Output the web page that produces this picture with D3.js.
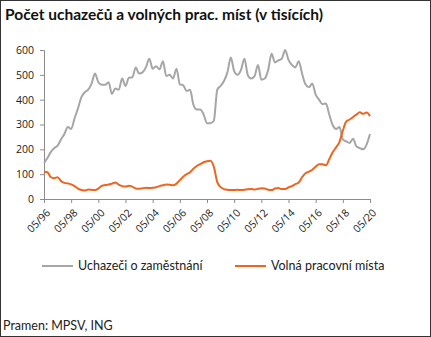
<!DOCTYPE html>
<html>
<head>
<meta charset="utf-8">
<script src="https://d3js.org/d3.v7.min.js"></script>
<style>
body { margin: 0; background: #fff; }
svg { display: block; }
.title { font-family: Lato, "Open Sans", sans-serif; font-weight: bold; font-size: 15.5px; fill: #111; }
.tick text, .xlab { font-family: "Open Sans", "Liberation Sans", sans-serif; font-size: 10.5px; fill: #222; }
.legend text, .source { font-family: Lato, "Open Sans", sans-serif; font-size: 12.5px; fill: #222; }
</style>
</head>
<body>
<svg width="431" height="337"></svg>
<script>
// quarterly readings, starting 05/1996 (thousands)
var uchazeci = [145,165,190,205,215,240,262,290,282,325,365,410,430,440,465,505,
  470,460,460,470,423,445,440,485,455,488,490,530,505,510,530,565,
  525,535,522,555,495,500,485,525,462,458,435,440,380,360,360,340,
  305,305,315,440,455,475,510,570,515,500,520,565,500,485,495,540,
  480,485,520,585,550,558,565,600,560,540,530,555,505,462,450,465,
  420,400,382,385,340,298,282,290,240,232,226,243,212,205,200,220,262];

var volnaMista = [110,108,88,84,88,72,65,63,59,52,42,36,34,38,37,36,
  42,53,56,58,62,66,58,52,50,53,50,42,41,43,45,44,
  45,47,52,55,58,57,55,62,76,90,100,108,122,133,140,148,
  152,154,130,68,48,40,37,36,36,37,36,37,39,40,38,41,
  43,42,37,36,42,44,40,40,47,52,60,66,88,104,110,118,
  130,140,140,136,160,188,208,230,275,312,320,330,340,349,343,348,333];

var yTicks = [0,100,200,300,400,500,600];
var xTickYears = [1996,1998,2000,2002,2004,2006,2008,2010,2012,2014,2016,2018,2020];

var seriesNames = ["Uchazeči o zaměstnání", "Volná pracovní místa"];
var seriesColors = ["#a6a6a6", "#f0641e"];

var svg = d3.select("svg");

var dates = uchazeci.map(function(d, i) { return new Date(1996, 4 + 3 * i, 1); });

var x = d3.scaleTime()
    .domain([new Date(1996, 4, 1), new Date(2020, 4, 1)])
    .range([44, 370]);

var y = d3.scaleLinear()
    .domain([0, 600])
    .range([199, 50]);

// border
svg.append("rect")
    .attr("x", 0.5).attr("y", 0.5)
    .attr("width", 430).attr("height", 336)
    .attr("fill", "none")
    .attr("stroke", "#333");

svg.append("text")
    .attr("class", "title")
    .attr("x", 5).attr("y", 20)
    .text("Počet uchazečů a volných prac. míst (v tisících)");

// y axis
var yAxis = svg.append("g")
    .attr("transform", "translate(44,0)")
    .call(d3.axisLeft(y).tickValues(yTicks).tickSize(4).tickPadding(6));
yAxis.selectAll("path, line").attr("stroke", "#8c8c8c");
yAxis.selectAll("text").attr("font-family", null).attr("font-size", null);

// x axis
var xAxis = svg.append("g")
    .attr("transform", "translate(0,199)")
    .call(d3.axisBottom(x)
      .tickValues(xTickYears.map(function(yr) { return new Date(yr, 4, 1); }))
      .tickSize(4)
      .tickFormat(d3.timeFormat("%m/%y")));
xAxis.selectAll("path, line").attr("stroke", "#8c8c8c");
xAxis.selectAll("text")
    .attr("font-family", null).attr("font-size", null)
    .attr("text-anchor", "end")
    .attr("dy", "0.35em")
    .attr("transform", "translate(4,12) rotate(-45)")
    .attr("y", 0).attr("x", 0);

var line = d3.line()
    .x(function(d, i) { return x(dates[i]); })
    .y(function(d) { return y(d); })
    .curve(d3.curveMonotoneX);

[uchazeci, volnaMista].forEach(function(s, i) {
  svg.append("path")
      .datum(s)
      .attr("fill", "none")
      .attr("stroke", seriesColors[i])
      .attr("stroke-width", 2)
      .attr("stroke-linejoin", "round")
      .attr("d", line);
});

// legend
var legendX = [42, 235];
var legend = svg.append("g").attr("class", "legend");
seriesNames.forEach(function(n, i) {
  legend.append("line")
      .attr("x1", legendX[i]).attr("x2", legendX[i] + 31)
      .attr("y1", 266).attr("y2", 266)
      .attr("stroke", seriesColors[i])
      .attr("stroke-width", 2);
  legend.append("text")
      .attr("x", legendX[i] + 36).attr("y", 270)
      .text(n);
});

svg.append("text")
    .attr("class", "source")
    .attr("x", 3).attr("y", 330)
    .text("Pramen: MPSV, ING");
</script>
</body>
</html>
